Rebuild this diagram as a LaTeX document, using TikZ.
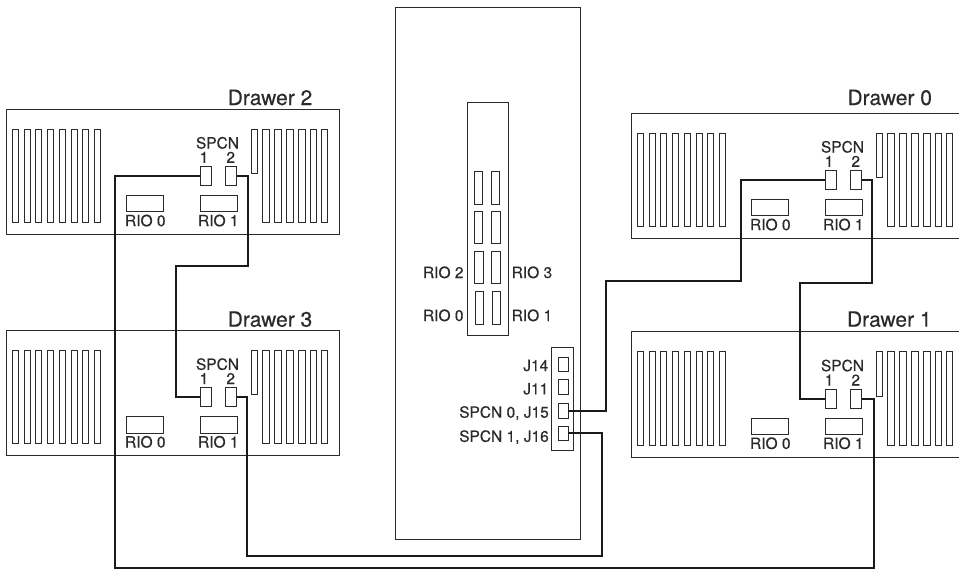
\documentclass[tikz,border=0pt]{standalone}
\usepackage{fontspec}
\setmainfont[FakeBold=0.35]{TeX Gyre Heros}
\definecolor{ink}{HTML}{2A2A2A}
\definecolor{wirecol}{HTML}{1A1A1A}
\tikzset{
  part/.style={draw=ink,line width=0.8pt,inner sep=0pt,outer sep=0pt,rectangle},
  wire/.style={draw=wirecol,line width=2pt,line join=miter},
  small/.style={text=ink,inner sep=0pt,outer sep=0pt,font=\fontsize{15.5}{18}\selectfont},
  title/.style={text=ink,inner sep=0pt,outer sep=0pt,anchor=base,font=\fontsize{21}{24}\selectfont},
}
% rectangle from corners: name, x1, y1, x2, y2
\newcommand\partbox[5]{%
  \pgfmathsetmacro\pbw{#4-(#2)}\pgfmathsetmacro\pbh{#5-(#3)}%
  \pgfmathsetmacro\pbx{(#2+#4)/2}\pgfmathsetmacro\pby{(#3+#5)/2}%
  \node[part,minimum width=\pbw pt,minimum height=\pbh pt] (#1) at (\pbx,\pby) {};}
% contents of a drawer: name, left, top
\newcommand\drawerparts[3]{%
  \begin{scope}[shift={(#2,#3)}]
    \foreach \i/\a in {1/6,2/18,3/29.7,4/41.7,5/53.7,6/65.3,7/76.7,8/88.7}{
      \pgfmathsetmacro\b{\a+6}
      \partbox{#1l\i}{\a}{20}{\b}{113.5}}
    \partbox{#1short}{245}{20}{251.5}{64.3}
    \foreach \i/\a in {1/256.5,2/268.5,3/280.5,4/292.2,5/304,6/315}{
      \pgfmathsetmacro\b{\a+6.7}
      \partbox{#1r\i}{\a}{20}{\b}{113.5}}
    \partbox{#1sa}{194.3}{57.3}{205}{76.5}
    \partbox{#1sb}{219.8}{57.3}{230.5}{76.5}
    \partbox{#1rioa}{120.7}{86.5}{157.3}{102.7}
    \partbox{#1riob}{194.5}{86.5}{231}{102.7}
    \node[small,anchor=base] (#1spcn) at (211.5,39.5) {SPCN};
    \node[small,anchor=base] (#1one) at (198,53.8) {1};
    \node[small,anchor=base] (#1two) at (224.7,53.8) {2};
    \node[small,anchor=base] (#1rioat) at (139.3,117.2) {RIO 0};
    \node[small,anchor=base] (#1riobt) at (212.3,117.2) {RIO 1};
  \end{scope}}
\begin{document}
\begin{tikzpicture}[x=1pt,y=-1pt]
\useasboundingbox (0,0) rectangle (959,571);
% left drawers
\partbox{d2}{6}{109}{339}{234.3}
\partbox{d3}{6}{330.3}{339}{455.7}
% right drawers run off the page edge
\draw[draw=ink,line width=0.8pt] (959,113) -- (631,113) -- (631,238.7) -- (959,238.7);
\draw[draw=ink,line width=0.8pt] (959,331.7) -- (631,331.7) -- (631,457) -- (959,457);
\drawerparts{dii}{6}{109}
\drawerparts{diii}{6}{330.3}
\drawerparts{do}{631}{113}
\drawerparts{di}{631}{331.7}
\node[title] (t2) at (270,105) {Drawer 2};
\node[title] (t3) at (270,326.7) {Drawer 3};
\node[title] (t0) at (889.7,105) {Drawer 0};
\node[title] (t1) at (889.3,326.7) {Drawer 1};
% centre unit
\partbox{unit}{395.7}{7}{580.3}{539}
\partbox{riopanel}{467.7}{102.7}{508.7}{335.7}
\partbox{ra1}{474.3}{171.7}{482.7}{204.3}
\partbox{rb1}{491}{171.7}{499.7}{204.3}
\partbox{ra2}{474.3}{211}{482.7}{243.7}
\partbox{rb2}{491.3}{211}{500}{243.7}
\partbox{ra3}{474.7}{251.3}{483.3}{283.7}
\partbox{rb3}{491.7}{251.3}{500.3}{283.7}
\partbox{ra4}{475}{291.7}{483.3}{324.3}
\partbox{rb4}{492.3}{291.7}{500.7}{324.3}
\node[small,anchor=base east] (l2) at (463.5,278) {RIO 2};
\node[small,anchor=base east] (l0) at (463.5,321) {RIO 0};
\node[small,anchor=base west] (l3) at (511.7,278) {RIO 3};
\node[small,anchor=base west] (l1) at (511.7,321) {RIO 1};
\partbox{jpanel}{551.7}{347}{573.7}{450.3}
\partbox{j14}{558}{357.3}{568.3}{371.7}
\partbox{j11}{558}{379.3}{568.3}{394}
\partbox{j15}{558}{403.3}{568.3}{418}
\partbox{j16}{558}{426}{568.3}{440.7}
\node[small,anchor=base east] (tj14) at (548.3,371) {J14};
\node[small,anchor=base east] (tj11) at (548.3,394.3) {J11};
\node[small,anchor=base east] (tj15) at (548.8,417.7) {SPCN 0, J15};
\node[small,anchor=base east] (tj16) at (548.8,441.8) {SPCN 1, J16};
% wires
\draw[wire] (diisa.west) -- ++(-85,0) -- ++(0,392) -- ++(758.2,0) |- (disb.east);
\draw[wire] (diisb.east) -- ++(11.2,0) -- ++(0,90.5) -- ++(-72,0) |- (diiisa.west);
\draw[wire] (diiisb.east) -- ++(10.2,0) -- ++(0,158.8) -- ++(355.6,0) |- (j16.east);
\draw[wire] (j15.east) -- ++(37.5,0) -- ++(0,-129.6) -- ++(135,0) |- (dosa.west);
\draw[wire] (dosb.east) -- ++(10.8,0) -- ++(0,103) -- ++(-72.3,0) |- (disa.west);
\end{tikzpicture}
\end{document}
